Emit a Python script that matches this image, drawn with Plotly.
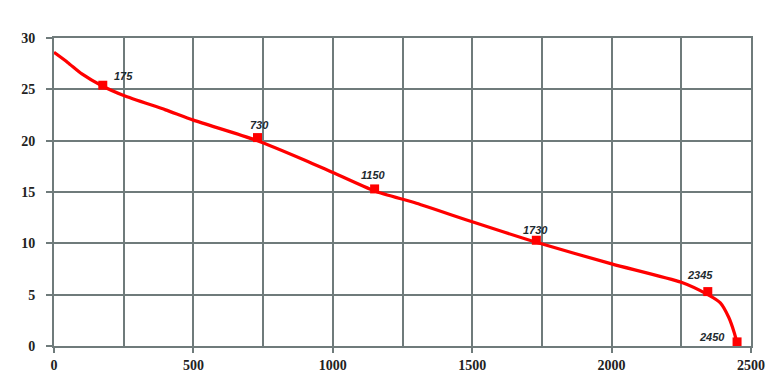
import plotly.graph_objects as go

# curve
curve_x = [0, 50, 100, 175, 250, 400, 500, 730, 900, 1000, 1150, 1300, 1500, 1730, 2000, 2250, 2345, 2390, 2420, 2440, 2450]
curve_y = [28.6, 27.6, 26.5, 25.3, 24.4, 23.0, 22.0, 20.0, 18.1, 16.9, 15.1, 13.9, 12.1, 10.1, 8.0, 6.2, 5.0, 4.2, 2.8, 1.3, 0.3]

# labelled points
point_x = [175, 730, 1150, 1730, 2345, 2450]
point_y = [25.4, 20.3, 15.3, 10.3, 5.3, 0.4]
point_labels = ["175", "730", "1150", "1730", "2345", "2450"]
label_shift = [(21, 9), (2, 13), (-1, 14), (-1, 10), (-8, 17), (-25, 5)]

x_ticks = [0, 500, 1000, 1500, 2000, 2500]
y_ticks = [0, 5, 10, 15, 20, 25, 30]

grid = "#6f7b7b"
fig = go.Figure()
fig.add_trace(go.Scatter(x=curve_x, y=curve_y, mode="lines",
                         line=dict(color="#ff0000", width=3.2, shape="spline", smoothing=0.6),
                         hoverinfo="skip", showlegend=False))
fig.add_trace(go.Scatter(x=point_x, y=point_y, mode="markers",
                         marker=dict(symbol="square", size=9, color="#ff0000"),
                         showlegend=False))
for px, py, lab, (dx, dy) in zip(point_x, point_y, point_labels, label_shift):
    fig.add_annotation(x=px, y=py, text=lab, showarrow=False, xshift=dx, yshift=dy,
                       font=dict(family="Liberation Sans", size=11, color="#1e2b30",
                                 weight="bold", style="italic"))

tick_font = dict(family="Liberation Serif", size=14, color="#222", weight="bold")
fig.update_layout(
    width=775, height=382,
    margin=dict(l=46, r=32, t=30, b=44),
    paper_bgcolor="white", plot_bgcolor="white",
    xaxis=dict(range=[0, 2500], tickvals=x_ticks, ticktext=[str(v) for v in x_ticks],
               showgrid=True, gridcolor=grid, gridwidth=2,
               minor=dict(dtick=250, showgrid=True, gridcolor=grid, gridwidth=2),
               ticks="outside", ticklen=5, tickcolor=grid, tickwidth=2,
               showline=True, linecolor=grid, linewidth=2, mirror=True, zeroline=False,
               tickfont=tick_font),
    yaxis=dict(range=[0, 30], tickvals=y_ticks,
               showgrid=True, gridcolor=grid, gridwidth=2,
               ticks="outside", ticklen=6, tickcolor=grid, tickwidth=2, ticklabelstandoff=8,
               showline=True, linecolor=grid, linewidth=2, mirror=True, zeroline=False,
               tickfont=tick_font),
)
fig.write_html("out.html")
